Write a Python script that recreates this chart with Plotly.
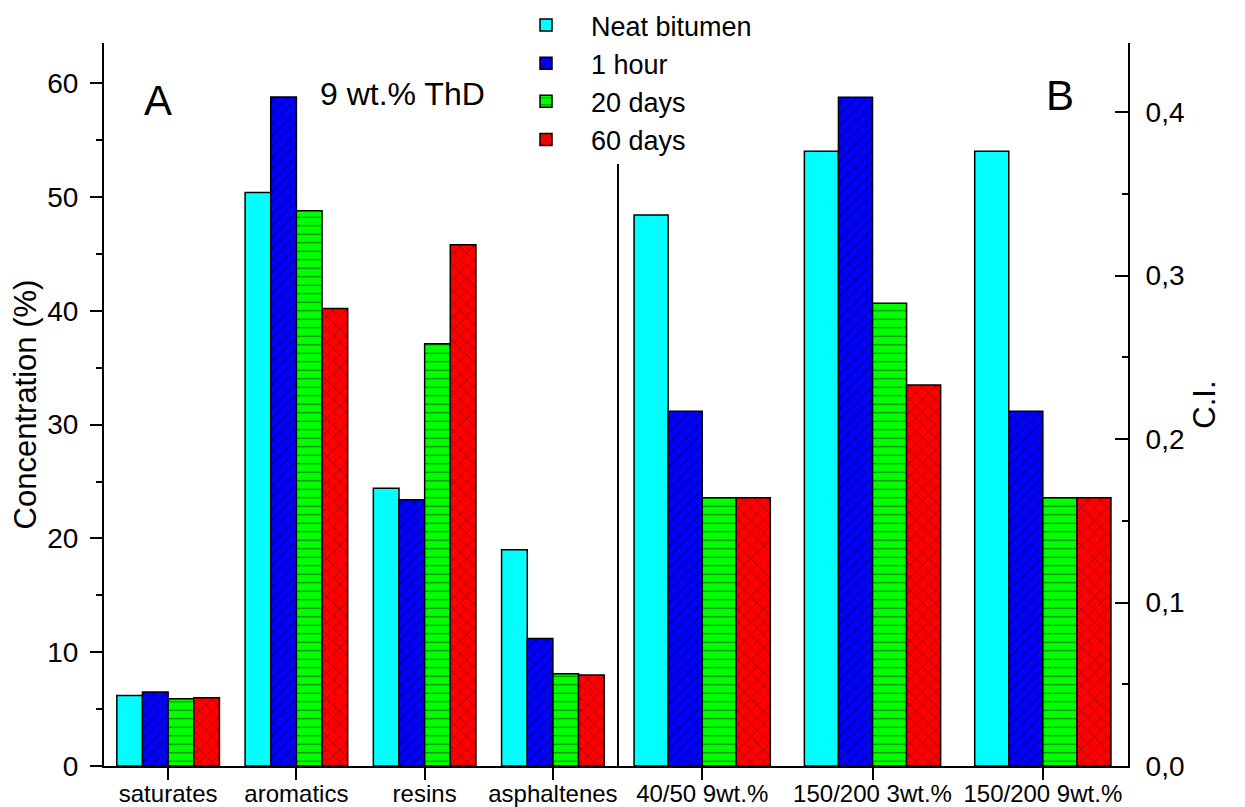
import plotly.graph_objects as go

# ---- data ----
categories_A = ["saturates", "aromatics", "resins", "asphaltenes"]
neat_A = [6.2, 50.4, 24.4, 19.0]
hour1_A = [6.5, 58.8, 23.4, 11.2]
days20_A = [5.9, 48.8, 37.1, 8.1]
days60_A = [6.0, 40.2, 45.8, 8.0]

categories_B = ["40/50 9wt.%", "150/200 3wt.%", "150/200 9wt.%"]
neat_B = [0.337, 0.376, 0.376]
hour1_B = [0.217, 0.409, 0.217]
days20_B = [0.164, 0.283, 0.164]
days60_B = [0.164, 0.233, 0.164]

series_names = ["Neat bitumen", "1 hour", "20 days", "60 days"]
left_ticks = [0, 10, 20, 30, 40, 50, 60]
right_ticks = [0.0, 0.1, 0.2, 0.3, 0.4]
right_ticklabels = ["0,0", "0,1", "0,2", "0,3", "0,4"]

# ---- styles ----
FONT = "Liberation Sans, Arial, sans-serif"
colors = ["#00FFFF", "#0000FF", "#00FF00", "#FF0000"]
patterns = [
    dict(shape=""),
    dict(shape="/", fgcolor="black", bgcolor="#0000FF", size=8, solidity=0.15),
    dict(shape="-", fgcolor="black", bgcolor="#00FF00", size=8.5, solidity=0.13),
    dict(shape="x", fgcolor="black", bgcolor="#FF0000", size=9, solidity=0.13),
]

fig = go.Figure()
data_A = [neat_A, hour1_A, days20_A, days60_A]
data_B = [neat_B, hour1_B, days20_B, days60_B]
for i, name in enumerate(series_names):
    fig.add_trace(go.Bar(
        x=categories_A, y=data_A[i], name=name, xaxis="x", yaxis="y",
        marker=dict(color=colors[i], line=dict(color="black", width=1.5), pattern=patterns[i]),
        showlegend=True,
    ))
for i, name in enumerate(series_names):
    fig.add_trace(go.Bar(
        x=categories_B, y=data_B[i], name=name, xaxis="x2", yaxis="y2",
        marker=dict(color=colors[i], line=dict(color="black", width=1.5), pattern=patterns[i]),
        showlegend=False,
    ))

split = 0.501
nA = len(categories_A)
nB = len(categories_B)

# page body has an 8px margin; the figure is sized/offset to compensate
W, H = 1237, 799
L, T = 96, 35
R = W - (1128 - 8)
B = H - (766 - 8)

common_x = dict(showgrid=False, zeroline=False, linecolor="black", linewidth=2,
                tickcolor="black", tickwidth=2, ticklabelstandoff=-7,
                tickfont=dict(family=FONT, size=24, color="black"))
deco = dict(tickcolor="black", tickwidth=2, showticklabels=False, showgrid=False,
            zeroline=False, type="linear", tickmode="linear", dtick=1)

fig.update_layout(
    width=W, height=H,
    margin=dict(l=L, r=R, t=T, b=B, autoexpand=False),
    plot_bgcolor="white", paper_bgcolor="white",
    barmode="group", bargap=0.2, bargroupgap=0,
    separators=",.",
    font=dict(family=FONT, color="black"),
    xaxis=dict(domain=[0, split], type="category", range=[-0.5, nA - 0.5],
               showline=True, ticks="outside", ticklen=12, anchor="y", **common_x),
    xaxis2=dict(domain=[split, 1], type="category", range=[-0.5, nB - 0.5],
                showline=True, ticks="outside", ticklen=12, anchor="y2", **common_x),
    # boundary ticks bottom
    xaxis3=dict(overlaying="x", anchor="y", side="bottom", range=[-0.5, nA - 0.5],
                tick0=-0.5, ticks="outside", ticklen=7, showline=False, **deco),
    xaxis4=dict(overlaying="x2", anchor="y2", side="bottom", range=[-0.5, nB - 0.5],
                tick0=-0.5, ticks="outside", ticklen=7, showline=False, **deco),
    # top frame with inside ticks
    xaxis5=dict(overlaying="x", anchor="y", side="top", range=[-0.5, nA - 0.5],
                tick0=0, ticks="inside", ticklen=14, showline=True, linecolor="black", linewidth=2,
                minor=dict(tickmode="linear", tick0=-0.5, dtick=0.5, ticks="inside", ticklen=8,
                           tickwidth=2, tickcolor="black"), **deco),
    xaxis6=dict(overlaying="x2", anchor="y2", side="top", range=[-0.5, nB - 0.5],
                tick0=0, ticks="inside", ticklen=14, showline=True, linecolor="black", linewidth=2,
                minor=dict(tickmode="linear", tick0=-0.5, dtick=0.5, ticks="inside", ticklen=8,
                           tickwidth=2, tickcolor="black"), **deco),
    yaxis=dict(anchor="x", side="left", range=[0, 63.54], tickmode="array", tickvals=left_ticks,
               ticks="outside", ticklen=12, tickwidth=2, tickcolor="black",
               minor=dict(tickmode="linear", tick0=0, dtick=5, ticks="outside", ticklen=6,
                          tickwidth=2, tickcolor="black"),
               showline=True, mirror=True, linecolor="black", linewidth=2,
               showgrid=False, zeroline=False, ticklabelstandoff=6,
               tickfont=dict(family=FONT, size=28, color="black"),
               title=dict(text="Concentration (%)", font=dict(family=FONT, size=31, color="black"),
                          standoff=4)),
    yaxis2=dict(anchor="x2", side="right", range=[0, 0.4422], tickmode="array",
                tickvals=right_ticks, ticktext=right_ticklabels,
                ticks="inside", ticklen=13, tickwidth=2, tickcolor="black",
                minor=dict(tickmode="linear", tick0=0, dtick=0.05, ticks="inside", ticklen=6,
                           tickwidth=2, tickcolor="black"),
                showline=True, linecolor="black", linewidth=2,
                showgrid=False, zeroline=False, ticklabelstandoff=10,
                tickfont=dict(family=FONT, size=28, color="black"),
                title=dict(text="C.I.", font=dict(family=FONT, size=31, color="black"), standoff=10)),
    legend=dict(x=0.3877, y=1.058, xanchor="left", yanchor="top", bgcolor="white",
                borderwidth=0, font=dict(family=FONT, size=27, color="black"),
                itemwidth=80, tracegroupgap=0),
    annotations=[
        dict(text="A", x=0.0532, y=0.921, xref="paper", yref="paper", xanchor="center",
             yanchor="middle", showarrow=False, font=dict(family=FONT, size=42, color="black")),
        dict(text="B", x=0.934, y=0.928, xref="paper", yref="paper", xanchor="center",
             yanchor="middle", showarrow=False, font=dict(family=FONT, size=42, color="black")),
        dict(text="9 wt.% ThD", x=0.209, y=0.929, xref="paper", yref="paper", xanchor="left",
             yanchor="middle", showarrow=False, font=dict(family=FONT, size=32, color="black")),
    ],
)

fig.write_html("out.html")
